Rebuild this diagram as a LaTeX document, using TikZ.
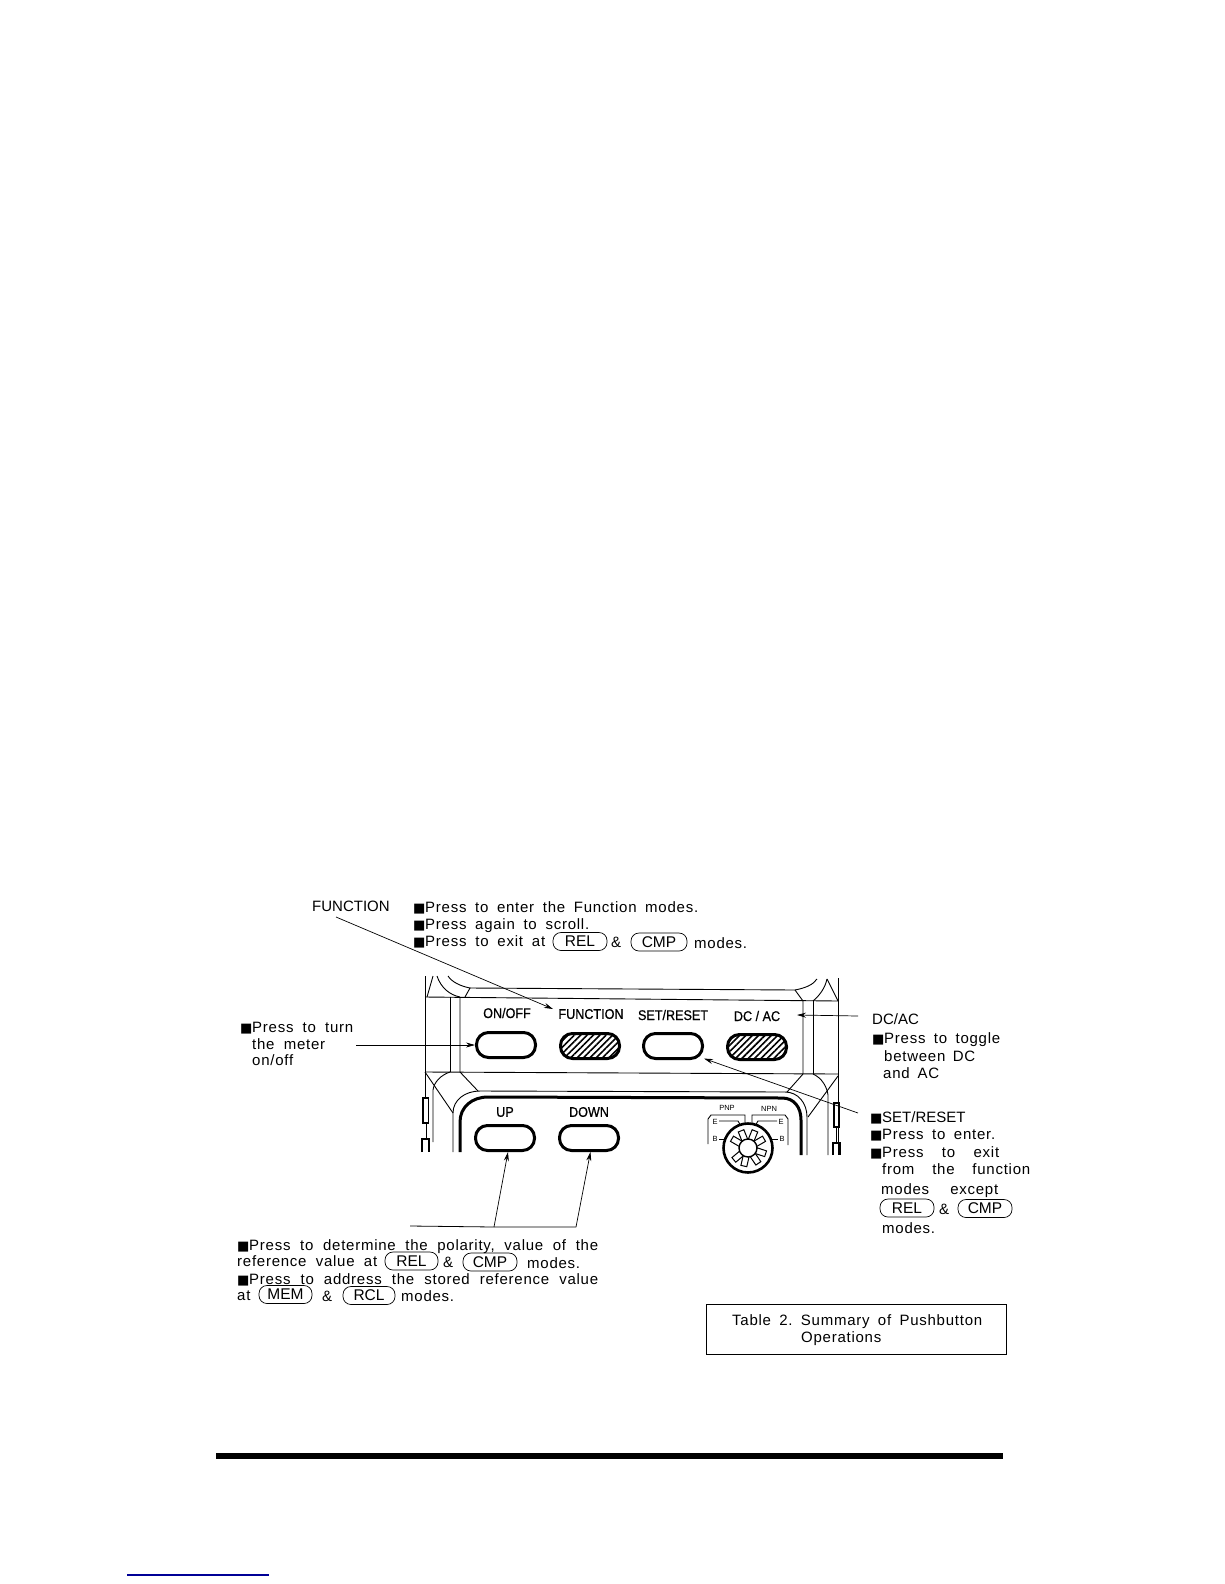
\documentclass[tikz,border=0pt]{standalone}
\usepackage{fontspec}
\setmainfont[LetterSpace=5]{Liberation Sans}
\newfontfamily\plainfont{Liberation Sans}
\newfontfamily\sqfont{DejaVu Sans}
\newfontfamily\panelfont[FakeStretch=0.9,FakeBold=0.7]{Liberation Sans}
\usetikzlibrary{arrows.meta,patterns.meta}
\definecolor{linkblue}{RGB}{0,0,150}
\tikzstyle{txt}=[anchor=west, inner sep=0, text height=11pt, text depth=1pt, font=\fontsize{15}{16}\selectfont]
\tikzstyle{headtxt}=[txt, font=\plainfont\fontsize{15}{16}\selectfont]
\tikzstyle{key}=[draw=black, line width=0.7pt, rounded corners=8pt, inner sep=0, minimum height=18pt, font=\plainfont\fontsize{15.5}{16}\selectfont]
\tikzstyle{btn}=[draw=black, line width=3pt, rounded corners=12pt, inner sep=0, minimum width=59pt, minimum height=25pt]
\tikzstyle{hatchbtn}=[btn, pattern={Lines[angle=45,distance=4.5pt,line width=1.6pt]}]
\tikzstyle{paneltxt}=[inner sep=0, font=\panelfont\fontsize{14}{16}\selectfont]
\tikzstyle{tiny}=[inner sep=0, font=\plainfont\fontsize{7.5}{8}\selectfont]
\tikzstyle{tooth}=[draw=black, line width=1pt, fill=white, inner sep=0, minimum width=6pt, minimum height=10pt]
\tikzstyle{leader}=[line width=0.7pt, -{Stealth[length=9pt,width=5pt]}]
\newcommand{\jline}[2]{\makebox[#1pt][s]{\frenchspacing #2}}
\newcommand{\sqb}{\makebox[12pt][l]{\sqfont\fontsize{13}{14}\selectfont ■}}
\begin{document}
\begin{tikzpicture}[x=1pt,y=-1pt]
\useasboundingbox (0,0) rectangle (1224,1584);
% top of the panel
\draw[line width=0.9pt] (425,976) -- (425,1098);
\draw[line width=0.9pt] (425,1072) -- (453,1113);
\draw[line width=0.9pt] (433,976) -- (427,997);
\draw[line width=0.9pt] (437,976) .. controls (441,988) and (450,995) .. (460,997);
\draw[line width=0.9pt] (448,976) .. controls (452,982) and (460,986) .. (470,988) -- (465,997);
\draw[line width=0.9pt] (470,988) -- (795,990) -- (803,1001);
\draw[line width=0.9pt] (425,997) -- (838,1001);
\draw[line width=0.9pt] (425,1072) -- (838,1074);
\draw[line width=0.9pt] (450,997) -- (450,1072);
\draw[line width=0.9pt] (460,997) -- (460,1072) -- (478,1091);
\draw[line width=0.9pt] (803,1001) -- (803,1074) -- (787,1092);
\draw[line width=0.9pt] (813,1001) -- (813,1074);
\draw[line width=0.9pt] (795,990) .. controls (805,988) and (813,985) .. (817,979);
\draw[line width=0.9pt] (813,1001) .. controls (820,995) and (825,988) .. (827,979);
\draw[line width=0.9pt] (827,979) -- (838,1001);
\draw[line width=0.9pt] (838,978) -- (838,1155);
\draw[line width=0.9pt] (838,1076) -- (808,1117);
\draw[line width=0.9pt] (813,1074) .. controls (822,1078) and (827,1087) .. (828,1095) -- (828,1155);
% corner on the left
\draw[line width=0.9pt] (450,1072) .. controls (441,1075) and (434,1082) .. (433,1090) -- (433,1142);
\draw[line width=1.6pt] (423,1098) rectangle (428.5,1123);
\draw[line width=0.9pt] (426,1123) -- (426,1139);
\draw[line width=1.1pt] (422,1152) -- (422,1139) -- (429,1139) -- (429,1152);
\draw[line width=1.6pt] (834,1103) rectangle (839,1127);
\draw[line width=0.9pt] (836,1127) -- (836,1143);
\draw[line width=1.1pt] (833,1155) -- (833,1143) -- (840,1143) -- (840,1155);
% lower panel frame
\draw[line width=0.9pt] (453,1152) -- (453,1113) .. controls (453,1100) and (465,1091) .. (480,1091) -- (785,1092) .. controls (798,1092) and (807,1103) .. (807,1117) -- (807,1155);
\draw[line width=3pt] (460,1152) -- (460,1122) .. controls (460,1107) and (472,1097) .. (488,1097) -- (782,1098) .. controls (794,1098) and (801,1107) .. (801,1120) -- (801,1155);
% buttons
\node[btn] (onoff) at (506,1045) {};
\node[hatchbtn] (fnbtn) at (590,1046) {};
\node[btn] (setbtn) at (673,1046) {};
\node[hatchbtn] (dcbtn) at (757,1047) {};
\node[btn] (upbtn) at (505,1138) {};
\node[btn] (downbtn) at (589,1138) {};
\node[paneltxt] (onofflbl) at (507,1013) {ON/OFF};
\node[paneltxt] (fnlbl) at (591,1014) {FUNCTION};
\node[paneltxt] (setlbl) at (673,1015) {SET/RESET};
\node[paneltxt] (dclbl) at (757,1016) {DC / AC};
\node[paneltxt] (uplbl) at (505,1112) {UP};
\node[paneltxt] (downlbl) at (589,1112) {DOWN};
% selector knob
\draw[line width=0.9pt] (708,1144) -- (708,1119) -- (711,1115) -- (745,1115) -- (745,1124);
\draw[line width=0.9pt] (788,1145) -- (788,1119) -- (785,1115) -- (752,1115) -- (752,1124);
\draw[line width=0.9pt] (719,1121) -- (738,1121) -- (741,1126);
\draw[line width=0.9pt] (777,1121) -- (758,1121) -- (755,1126);
\draw[line width=0.9pt] (719,1139) -- (725,1139);
\draw[line width=0.9pt] (771,1139) -- (778,1139);
\node[tiny] (pnp) at (727,1108) {PNP};
\node[tiny] (npn) at (769,1109) {NPN};
\node[tiny] (emleft) at (715,1122) {E};
\node[tiny] (baseleft) at (715,1139) {B};
\node[tiny] (emright) at (781,1122) {E};
\node[tiny] (baseright) at (782,1139) {B};
\draw[line width=2.6pt, fill=white] (748,1148) circle (24.5);
\foreach \a in {30,68,112,150,220,257,304,342}
{
\node[tooth, rotate=\a-90] (T\a) at ([shift={(-\a:13.5)}]748,1148) {};
}
\draw[line width=1.4pt, fill=white] (748,1148) circle (9);
% text, top
\node[headtxt] (fnhead) at (312,906) {FUNCTION};
\node[txt] (fn1) at (413,907) {\sqb\jline{273}{Press to enter the Function modes.}};
\node[txt] (fn2) at (413,924) {\sqb\jline{164}{Press again to scroll.}};
\node[txt] (fn3) at (413,941) {\sqb\jline{120}{Press to exit at}};
\node[key, minimum width=54pt] (fnrel) at (580,941.5) {REL};
\node[txt] (fnamp) at (611,942) {\&};
\node[key, minimum width=56pt] (fncmp) at (659,942) {CMP};
\node[txt] (fn4) at (694,943) {modes.};
% text, left
\node[txt] (on1) at (240,1027) {\sqb\jline{101}{Press to turn}};
\node[txt] (on2) at (252,1044) {\jline{73}{the meter}};
\node[txt] (on3) at (252,1060) {on/off};
% text, right
\node[headtxt] (dchead) at (872,1019) {DC/AC};
\node[txt] (dc1) at (872,1038) {\sqb\jline{116}{Press to toggle}};
\node[txt] (dc2) at (884,1056) {\jline{91}{between DC}};
\node[txt] (dc3) at (883,1073) {\jline{56}{and AC}};
\node[headtxt] (sethead) at (870,1117) {\sqb SET/RESET};
\node[txt] (set1) at (870,1134) {\sqb\jline{113}{Press to enter.}};
\node[txt] (set2) at (870,1152) {\sqb\jline{117}{Press to exit}};
\node[txt] (set3) at (882,1169) {\jline{148}{from the function}};
\node[txt] (set4) at (881,1189) {\jline{117}{modes except}};
\node[key, minimum width=54pt] (setrel) at (907,1208) {REL};
\node[txt] (setamp) at (939,1209) {\&};
\node[key, minimum width=54pt] (setcmp) at (985,1208.5) {CMP};
\node[txt] (set5) at (882,1228) {modes.};
% text, bottom
\node[txt] (bot1) at (237,1245) {\sqb\jline{349}{Press to determine the polarity, value of the}};
\node[txt] (bot2) at (237,1261) {\jline{140}{reference value at}};
\node[key, minimum width=53pt] (botrel) at (411.5,1261) {REL};
\node[txt] (botamp) at (443,1262) {\&};
\node[key, minimum width=54pt] (botcmp) at (490,1262) {CMP};
\node[txt] (bot3) at (527,1263) {modes.};
\node[txt] (bot4) at (237,1279) {\sqb\jline{349}{Press to address the stored reference value}};
\node[txt] (bot5) at (237,1295) {at};
\node[key, minimum width=53pt] (botmem) at (285.5,1294.5) {MEM};
\node[txt] (botamp2) at (322,1296) {\&};
\node[key, minimum width=52pt] (botrcl) at (369,1295.5) {RCL};
\node[txt] (bot6) at (401,1296) {modes.};
% leaders
\coordinate (fnstart) at (336,917);
\coordinate (fntip) at (553,1009);
\coordinate (onstart) at (356,1045);
\coordinate (dcstart) at (858,1016);
\coordinate (dctip) at (797,1015);
\coordinate (setstart) at (858,1113);
\coordinate (brka) at (410,1226);
\coordinate (brkb) at (494,1227);
\coordinate (brkc) at (576,1227);
\draw[leader] (fnstart) -- (fntip);
\draw[leader] (onstart) -- (onoff.west);
\draw[leader] (dcstart) -- (dctip);
\draw[leader] (setstart) -- (setbtn.-22);
\draw[line width=0.8pt] (brka) -- (brkb) -- (brkc);
\draw[leader] (brkb) -- (upbtn.-78);
\draw[leader] (brkc) -- (downbtn.-84);
% caption and rule
\node[draw=black, line width=0.8pt, minimum width=300pt, minimum height=50pt, inner sep=0] (capbox) at (856.5,1329) {};
\node[txt] (cap1) at (732,1320) {\jline{250}{Table 2. Summary of Pushbutton}};
\node[txt] (cap2) at (801,1337) {Operations};
\fill[black] (216,1453) rectangle (1003,1459);
\draw[linkblue, line width=1.2pt] (127,1575) -- (269,1575);
\end{tikzpicture}
\end{document}
